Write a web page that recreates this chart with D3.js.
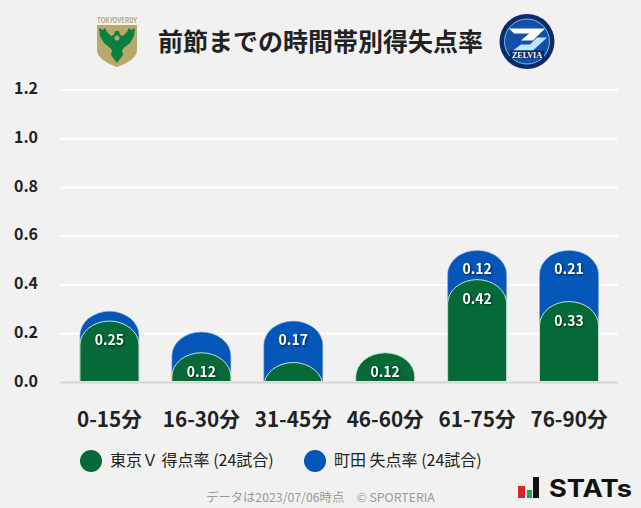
<!DOCTYPE html>
<html lang="ja"><head><meta charset="utf-8">
<script src="https://cdn.jsdelivr.net/npm/d3@7/dist/d3.min.js"></script>
<style>
html,body{margin:0;padding:0;background:#f1f1f1;overflow:hidden}
svg{display:block;font-family:"Noto Sans CJK JP","Noto Sans",sans-serif}
</style></head><body><div id="c"></div>
<script>
const categories=["0-15分","16-30分","31-45分","46-60分","61-75分","76-90分"];
const goalsFor=[0.25,0.12,0.08,0.12,0.42,0.33];
const goalsAgainst=[0.04,0.085,0.17,0,0.12,0.21];
const yTicks=[0,0.2,0.4,0.6,0.8,1.0,1.2];
const legendLabels=["東京Ｖ 得点率 (24試合)","町田 失点率 (24試合)"];
const titleText="前節までの時間帯別得失点率";
const footerText="データは2023/07/06時点　© SPORTERIA";
const labelMin=0.12;
const GREEN="#056a37",BLUE="#0456b8";
const FONT='"Noto Sans CJK JP","Noto Sans",sans-serif';

const svg=d3.select("#c").append("svg").attr("width",641).attr("height",508);
const x=d3.scaleBand().domain(categories).range([63.5,615]).paddingInner(0.358).paddingOuter(0.179);
const y=d3.scaleLinear().domain([0,1.2]).range([382,89.5]);

svg.append("clipPath").attr("id","plot").append("rect").attr("x",40).attr("y",40).attr("width",600).attr("height",341);

// grid + y labels
const yAxis=d3.axisLeft(y).tickValues(yTicks).tickFormat(d3.format(".1f")).tickSize(0);
const gy=svg.append("g").attr("transform","translate(60,0)").call(yAxis);
gy.select(".domain").remove();
gy.selectAll("text").attr("x",-34).attr("dy","0.35em").attr("transform","translate(0,-1.5)").attr("text-anchor","middle").style("font-size","16px").style("font-weight",700).style("font-family",FONT).attr("fill","#222");
gy.selectAll("line").attr("x1",0).attr("x2",558).attr("stroke",d=>d===0?"#d6d6d6":"#ffffff").attr("stroke-width",2);

const RY=24;
const barPath=(cx,top)=>{
  const w=x.bandwidth(),l=cx-w/2,r=cx+w/2,b=y(0);
  return `M${l},${b+30}L${l},${top+RY}A${w/2},${RY} 0 0 1 ${r},${top+RY}L${r},${b+30}Z`;
};
const rows=categories.map((c,i)=>({c,g:goalsFor[i],a:goalsAgainst[i]}));
const plot=svg.append("g").attr("clip-path","url(#plot)");
plot.selectAll(".blue").data(rows.filter(d=>d.a>0)).join("path").attr("class","blue")
 .attr("d",d=>barPath(x(d.c)+x.bandwidth()/2,y(d.g+d.a))).attr("fill",BLUE).attr("stroke","#8fb4e0").attr("stroke-width",0.6);
plot.selectAll(".green").data(rows).join("path").attr("class","green")
 .attr("d",d=>barPath(x(d.c)+x.bandwidth()/2,y(d.g))).attr("fill",GREEN).attr("stroke","#cfe0d6").attr("stroke-width",1);

// value labels
const vl=svg.append("g").attr("text-anchor","middle").attr("fill","#fff").style("font-size","14px").style("font-weight",700).style("filter","drop-shadow(1px 1px 1px rgba(0,0,0,.55))");
const lab=(sel,key,base)=>sel.selectAll("t").data(rows.filter(d=>d[key]>=labelMin)).join("text")
 .attr("x",d=>x(d.c)+x.bandwidth()/2).attr("y",d=>y(base(d))+24).text(d=>d[key].toFixed(2));
lab(vl.append("g"),"g",d=>d.g);
lab(vl.append("g"),"a",d=>d.g+d.a);

// x labels
const xAxis=d3.axisBottom(x).tickSize(0);
const gx=svg.append("g").attr("transform","translate(0,382)").call(xAxis);
gx.select(".domain").remove();
gx.selectAll("text").attr("y",45).attr("dy",0).style("font-size","20.7px").style("font-weight",700).style("font-family",FONT).attr("fill","#222");

// title
svg.append("text").attr("x",320.5).attr("y",51).attr("text-anchor","middle").style("font-size","25px").style("font-weight",700).attr("fill","#222").text(titleText);

// legend
const lx=[91,315],tx=[110,334];
[GREEN,BLUE].forEach((col,i)=>{
  svg.append("ellipse").attr("cx",lx[i]).attr("cy",461).attr("rx",11).attr("ry",11).attr("fill",col);
  svg.append("text").attr("x",tx[i]).attr("y",466).style("font-size","16px").attr("fill","#222").text(legendLabels[i]);
});
svg.append("text").attr("x",320.5).attr("y",502).attr("text-anchor","middle").style("font-size","12.3px").attr("fill","#999").text(footerText);

// Verdy crest
const v=svg.append("g");
v.append("text").attr("x",117).attr("y",22.5).attr("text-anchor","middle").attr("textLength",40).attr("lengthAdjust","spacingAndGlyphs").style("font-size","7px").style("font-weight",700).attr("fill","#b9ad6e").text("TOKYOVERDY");
v.append("path").attr("d","M97,25H137V51Q136,60 117,67Q98,60 97,51Z").attr("fill","#b7a96a");
v.append("path").attr("d","M99,28L103,30L105,28L107,32L111,36L114,35L115,31L119,31L120,35L123,36L127,32L129,28L131,30L135,28L134,36L130,43L125,47L122,50L123,55L117,63L111,55L112,50L109,47L104,43L100,36Z").attr("fill","#0a8040");
v.append("circle").attr("cx",117).attr("cy",38).attr("r",2.5).attr("fill","#b7a96a");

// Zelvia crest
const z=svg.append("g").attr("transform","translate(527,41.5)");
z.append("circle").attr("r",27.5).attr("fill","#0e2a6e");
z.append("circle").attr("r",22.5).attr("fill","#1450a8").attr("stroke","#6ec1ea").attr("stroke-width",1);
z.append("path").attr("d","M-18,-13H18L6,-1H-6L2,-8H-13Z").attr("fill","#fff");
z.append("path").attr("d","M10,-4H20L6,9H-14L-6,3H3Z").attr("fill","#bfe4f5");
z.append("rect").attr("x",-17).attr("y",9).attr("width",34).attr("height",8).attr("fill","#0e2a6e");
z.append("text").attr("y",16).attr("text-anchor","middle").style("font-size","8px").style("font-weight",700).style("font-family","Liberation Serif").attr("fill","#fff").text("ZELVIA");

// STATs logo
const s=svg.append("g");
s.append("rect").attr("x",518).attr("y",486).attr("width",7).attr("height",12).attr("fill","#d8232a");
s.append("rect").attr("x",527).attr("y",490).attr("width",5).attr("height",8).attr("fill","#1fa64a");
s.append("rect").attr("x",533).attr("y",477).attr("width",6).attr("height",21).attr("fill","#111");
s.append("text").attr("x",549).attr("y",497).attr("textLength",83).attr("lengthAdjust","spacingAndGlyphs").style("font-size","24px").style("font-weight",700).style("font-family","Inter").attr("fill","#111").text("STATs");
</script></body></html>
